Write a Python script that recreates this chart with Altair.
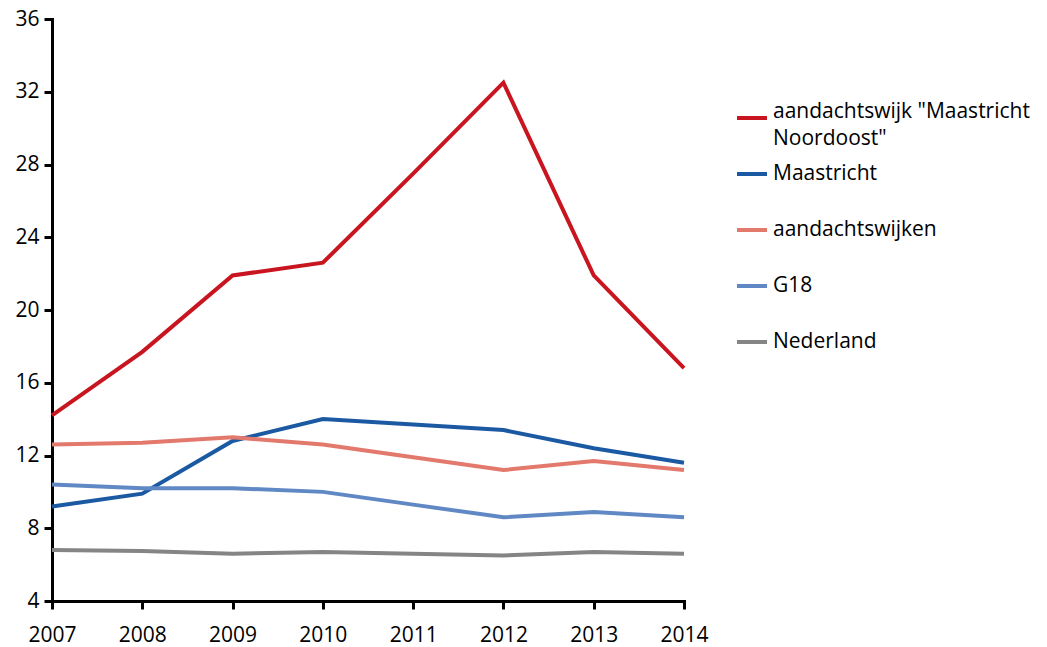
import altair as alt
import pandas as pd

years = [2007, 2008, 2009, 2010, 2011, 2012, 2013, 2014]
series_names = ['aandachtswijk "Maastricht Noordoost"', "Maastricht", "aandachtswijken", "G18", "Nederland"]
noordoost = [14.2, 17.7, 21.9, 22.6, 27.5, 32.5, 21.9, 16.8]
maastricht = [9.2, 9.9, 12.8, 14.0, 13.7, 13.4, 12.4, 11.6]
aandachtswijken = [12.6, 12.7, 13.0, 12.6, 11.9, 11.2, 11.7, 11.2]
g18 = [10.4, 10.2, 10.2, 10.0, 9.3, 8.6, 8.9, 8.6]
nederland = [6.8, 6.75, 6.6, 6.7, 6.6, 6.5, 6.7, 6.6]
colors = ["#c8151f", "#1b5aa2", "#e2796c", "#6088c4", "#858585"]

rows = []
for name, vals in zip(series_names, [noordoost, maastricht, aandachtswijken, g18, nederland]):
    for y, v in zip(years, vals):
        rows.append({"jaar": y, "waarde": v, "reeks": name})
df = pd.DataFrame(rows)

FONT = "Open Sans"
FS = 21

label_expr = ("datum.label == 'aandachtswijk \"Maastricht Noordoost\"' ? "
              "['aandachtswijk \"Maastricht', 'Noordoost\"'] : datum.label")
baseline_expr = ("datum.label == 'aandachtswijk \"Maastricht Noordoost\"' ? "
                 "'alphabetic' : 'middle'")

chart = alt.Chart(df).mark_line(strokeWidth=4).encode(
    x=alt.X("jaar:Q", scale=alt.Scale(domain=[2007, 2014], nice=False),
            axis=alt.Axis(title=None, values=years, format="d", grid=False,
                          domainColor="black", domainWidth=3, tickColor="black",
                          tickWidth=3, tickSize=8, labelFont=FONT, labelFontSize=FS,
                          labelColor="black", labelPadding=15, labelFlush=False)),
    y=alt.Y("waarde:Q", scale=alt.Scale(domain=[4, 36], nice=False),
            axis=alt.Axis(title=None, values=[4, 8, 12, 16, 20, 24, 28, 32, 36], grid=False,
                          domainColor="black", domainWidth=3, tickColor="black",
                          tickWidth=3, tickSize=8, labelFont=FONT, labelFontSize=FS,
                          labelColor="black", labelPadding=5, labelFlush=False)),
    color=alt.Color("reeks:N", sort=series_names,
                    scale=alt.Scale(domain=series_names, range=colors),
                    legend=alt.Legend(title=None, orient="none", legendX=683, legendY=82,
                                      symbolType="stroke", symbolSize=900, symbolStrokeWidth=4,
                                      labelFont=FONT, labelFontSize=FS, labelColor="black",
                                      labelOffset=4, rowPadding=8, labelLimit=400,
                                      gridAlign="all",
                                      labelExpr=label_expr, padding=0,
                                      labelBaseline={"expr": baseline_expr})),
).properties(
    width=632, height=582,
    autosize=alt.AutoSizeParams(type="none"),
    padding={"left": 44, "top": 11, "right": 355, "bottom": 46},
).configure(
    style={"guide-label": {"lineHeight": 27}}
).configure_view(stroke=None).configure_axis(domainCap="square")

chart.save("out.html", embed_options={"renderer": "svg", "actions": False})
